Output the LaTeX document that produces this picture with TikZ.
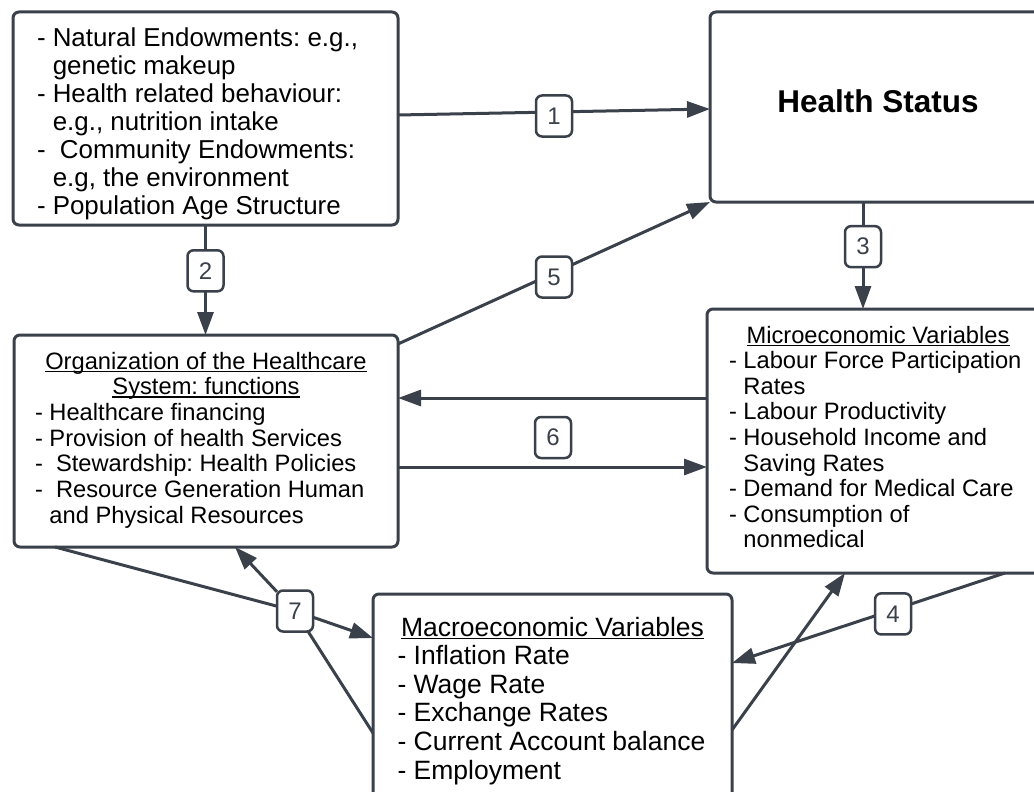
\documentclass[tikz,border=0pt]{standalone}
\usepackage{fontspec}
\setmainfont{Liberation Sans}
\usepackage{tikz}
\usetikzlibrary{arrows.meta, positioning, calc}
\definecolor{edgegray}{HTML}{3A414A}
\frenchspacing
\newsavebox{\hdbox}
\newcommand{\ulin}[1]{\sbox{\hdbox}{#1}\rlap{\rule[-3pt]{\wd\hdbox}{1.5pt}}\usebox{\hdbox}}
\newcommand{\hd}[1]{\makebox[\linewidth][c]{\ulin{#1}}}
\newcommand{\ind}{\hphantom{- }}
\newcommand{\itm}[1]{\mbox{- #1}}
\newcommand{\cnt}[1]{\mbox{\ind#1}}
\tikzset{
  box/.style={
    rectangle, rounded corners=6pt,
    draw=edgegray, line width=3pt,
    inner sep=0pt, outer sep=0pt,
    align=flush left, text=black,
  },
  link/.style={-{Triangle[length=23pt, width=16pt]}, draw=edgegray, line width=3pt},
  num/.style={rectangle, rounded corners=6pt, draw=edgegray, line width=2.5pt,
              fill=white, minimum width=36pt, minimum height=41pt,
              inner sep=0pt, outer sep=0pt, text=edgegray,
              font=\fontsize{24}{26}\selectfont, yshift=-4pt},
}

\begin{document}
\begin{tikzpicture}[
  x=1pt, y=-1pt,
  big/.style={font=\fontsize{25.9}{28}\selectfont},
  small/.style={font=\fontsize{23.7}{25.7}\selectfont},
]
  \useasboundingbox (0,0) rectangle (1034,792);
  \clip (0,0) rectangle (1034,792);

  % Top row
  \node[box, big, minimum width=385pt, minimum height=213pt,
        text width=337pt, text height=33pt, text depth=176pt]
    (src) at (205.5,118.5) {%
    \itm{Natural Endowments: e.g.,}\\
    \cnt{genetic makeup}\\
    \itm{Health related behaviour:}\\
    \cnt{e.g., nutrition intake}\\
    \itm{\ Community Endowments:}\\
    \cnt{e.g, the environment}\\
    \itm{Population Age Structure}};
  \node[box, minimum width=336pt, minimum height=190pt, align=center,
        font=\bfseries\fontsize{31.5}{34}\selectfont,
        text height=22pt, text depth=10pt]
    (health) at (878,107) {Health Status};

  % Middle row
  \node[box, small, minimum width=384pt, minimum height=212pt,
        text width=342pt, text height=21pt, text depth=165pt]
    (org) at (206,441) {%
    \hd{Organization of the Healthcare}\\
    \hd{System: functions}\\
    \itm{Healthcare financing}\\
    \itm{Provision of health Services}\\
    \itm{\ Stewardship: Health Policies}\\
    \itm{\ Resource Generation Human}\\
    \cnt{and Physical Resources}};
  \node[box, font=\fontsize{23.7}{25.6}\selectfont, minimum width=342pt, minimum height=264pt,
        text width=298pt, text height=24pt, text depth=220pt]
    (micro) at (878,441) {%
    \hd{Microeconomic Variables}\\
    \itm{Labour Force Participation}\\
    \cnt{Rates}\\
    \itm{Labour Productivity}\\
    \itm{Household Income and}\\
    \cnt{Saving Rates}\\
    \itm{Demand for Medical Care}\\
    \itm{Consumption of}\\
    \cnt{nonmedical}};

  % Bottom row
  \node[box, font=\fontsize{26.5}{28.6}\selectfont, minimum width=359pt, minimum height=226pt,
        text width=310pt, text height=18pt, text depth=160pt]
    (macro) at (552.5,707) {%
    \hd{Macroeconomic Variables}\\
    \itm{Inflation Rate}\\
    \itm{Wage Rate}\\
    \itm{Exchange Rates}\\
    \itm{Current Account balance}\\
    \itm{Employment}};

  % Links
  \draw[link] ($(src.north east)+(0,103)$) -- node[num, pos=.5] (l1) {1}
              ($(health.north west)+(0,97)$);
  \draw[link] (src.south) -- node[num, pos=.38] (l2) {2} (src.south |- org.north);
  \draw[link] ($(health.south west)+(153,0)$) -- node[num, pos=.38] (l3) {3}
              ($(micro.north west)+(156,0)$);
  \draw[link] ($(micro.south east)+(-44,0)$) -- node[num, pos=.41] (l4) {4}
              ($(macro.north east)+(0,69)$);
  \draw[link] ($(org.north east)+(0,9)$) -- node[num, pos=.5] (l5) {5} (health.south west);
  \draw[link] ($(micro.north west)+(0,89)$) -- ($(org.north east)+(0,63)$);
  \draw[link] ($(org.north east)+(0,132)$) -- ($(micro.north west)+(0,158)$);
  \node[num] (l6) at (553,433.5) {6};
  \draw[link] ($(macro.north east)+(0,136)$) -- ($(micro.south west)+(138,0)$);

  \node[num] (l7) at (295,607) {7};
  \draw[link] ($(org.south west)+(41,0)$) -- (l7) -- ($(macro.north west)+(0,44)$);
  \draw[link] ($(macro.north west)+(0,139)$) -- (l7) -- ($(org.south west)+(221,0)$);

\end{tikzpicture}
\end{document}
